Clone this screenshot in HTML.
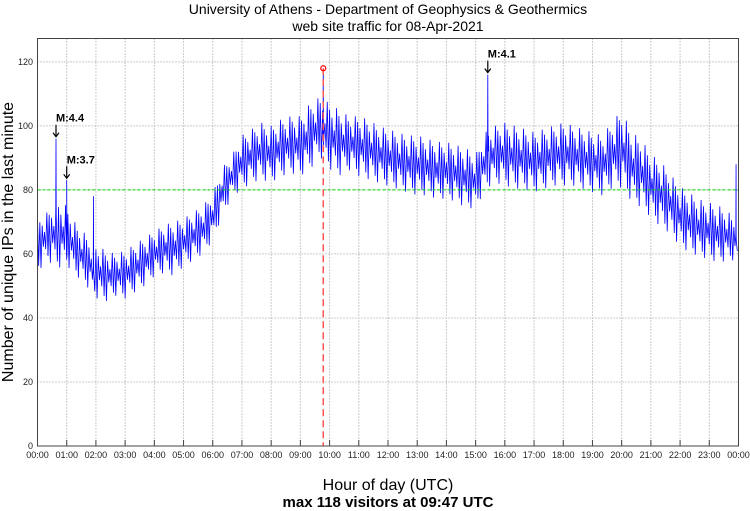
<!DOCTYPE html>
<html><head><meta charset="utf-8"><style>
body{margin:0;background:#fff;}
svg{display:block;font-family:"Liberation Sans",sans-serif;}
</style></head><body>
<svg id="chart" width="750" height="511" viewBox="0 0 750 511" xmlns="http://www.w3.org/2000/svg">
<text x="388" y="14" font-size="14" text-anchor="middle">University of Athens - Department of Geophysics &amp; Geothermics</text>
<text x="388" y="31" font-size="14" text-anchor="middle">web site traffic for 08-Apr-2021</text>
<text transform="translate(13,242) rotate(-90)" font-size="16" text-anchor="middle">Number of unique IPs in the last minute</text>
<text x="388" y="490" font-size="16" text-anchor="middle">Hour of day (UTC)</text>
<text x="388" y="507" font-size="15" font-weight="bold" text-anchor="middle">max 118 visitors at 09:47 UTC</text>
<g id="grid"></g>
<g id="series"></g>
<g id="overlay"></g>
<rect x="37.5" y="38.5" width="701" height="407.5" fill="none" stroke="#444" stroke-width="1"/>
</svg>
<script>
const tickHours=[0,1,2,3,4,5,6,7,8,9,10,11,12,13,14,15,16,17,18,19,20,21,22,23,24];
const yTicks=[0,20,40,60,80,100,120];
// per 20-minute slot: upper and lower envelope of minute counts
const highValues=[
71,73,77, 75,69,66, 63,61,60, 61,63,65,
67,69,70, 71,73,75, 79,87,91, 97,99,101,
100,102,103, 103,107,109, 107,105,103, 103,102,100,
99,98,97, 97,96,95, 95,94,93, 91,98,100,
101,100,99, 98,99,100, 101,100,99, 98,97,101,
105,98,96, 91,89,85, 81,79,77, 76,75,73, 69];
const lowValues=[
53,57,54, 55,52,49, 45,44,46, 45,47,49,
52,53,52, 55,57,59, 63,71,77, 79,81,82,
81,83,84, 83,85,89, 85,83,85, 83,82,81,
80,79,78, 77,77,76, 76,75,73, 73,79,81,
80,79,79, 78,79,80, 80,80,79, 78,77,79,
79,75,73, 70,67,65, 61,59,58, 57,56,57, 57];
const spikeMinutes=[38,60,115,587,925,1435];
const spikeValues=[96,83,78,118,116,88];
const quakeLabels=["M:4.4","M:3.7","M:4.1"];
const quakeMinutes=[38,60,925];
const quakeValues=[96,83,116];
const threshold=80;
const maxMinute=587, maxValue=118;

const X0=37.5,X1=738.5,Y0=446,Y1=38.5,YMAX=127.3;
const xs=m=>X0+(X1-X0)*m/1440;
const ys=v=>Y0-(Y0-Y1)*v/YMAX;
const NS="http://www.w3.org/2000/svg";
function mk(tag,attrs,parent){const e=document.createElementNS(NS,tag);for(const k in attrs)e.setAttribute(k,attrs[k]);parent.appendChild(e);return e;}
const grid=document.getElementById('grid'),series=document.getElementById('series'),ov=document.getElementById('overlay');

tickHours.forEach(h=>{
  const x=xs(h*60);
  if(h>0&&h<24){const l=mk('line',{x1:x,x2:x,y1:Y1,y2:Y0,stroke:'#999','stroke-dasharray':'1,2'},grid);
  
  
  const t1=mk('line',{x1:x,x2:x,y1:Y0,y2:Y0-6,stroke:'#444'},grid);
  
  }
  const t=mk('text',{x:x,y:458,'font-size':'9','text-anchor':'middle',fill:'#222'},grid);
  t.textContent=String(h%24).padStart(2,'0')+':00';
  
  
});
yTicks.forEach(v=>{
  const y=ys(v);
  if(v>0){const l=mk('line',{x1:X0,x2:X1,y1:y,y2:y,stroke:'#999','stroke-dasharray':'1,2'},grid);
  
  }
  const t=mk('text',{x:33,y:y+3,'font-size':'9','text-anchor':'end',fill:'#222'},grid);
  t.textContent=v;
  
  
});

let pts=[];
const step=2.4;
let k=0;
for(let m=0;m<=1440;m+=step,k++){
  const f=m/20, i=Math.min(Math.floor(f),highValues.length-2), fr=f-i;
  const hi=highValues[i]+(highValues[i+1]-highValues[i])*fr;
  const lo=lowValues[i]+(lowValues[i+1]-lowValues[i])*fr;
  const w=[1,0.35,0.8,0.15,0.6,0.9,0.25,0.7][k%8];
  const v=(k%2===0)? lo+(hi-lo)*(0.55+0.45*w) : lo+(hi-lo)*(0.45*w);
  pts.push([m,v]);
}
spikeMinutes.forEach((m,i)=>{pts.push([m-0.5,spikeValues[i]-22]);pts.push([m,spikeValues[i]]);pts.push([m+0.5,spikeValues[i]-24]);});
pts.sort((a,b)=>a[0]-b[0]);
const line=mk('polyline',{points:pts.map(p=>xs(p[0]).toFixed(2)+','+ys(p[1]).toFixed(1)).join(' '),fill:'none',stroke:'#0000ff','stroke-width':'0.8'},series);



const th=mk('line',{x1:X0,x2:X1,y1:ys(threshold),y2:ys(threshold),stroke:'#00dd00','stroke-dasharray':'3,2','stroke-width':'1'},ov);


const mx=mk('line',{x1:xs(maxMinute),x2:xs(maxMinute),y1:ys(maxValue),y2:Y0,stroke:'#ff5555','stroke-dasharray':'7,4','stroke-width':'1.5'},ov);


const mc=mk('circle',{cx:xs(maxMinute),cy:ys(maxValue),r:2.5,fill:'none',stroke:'#ff0000','stroke-width':'1.2'},ov);



quakeLabels.forEach((lab,i)=>{
  const x=xs(quakeMinutes[i]),y=ys(quakeValues[i]);
  const a=mk('path',{d:`M${x},${y-2}V${y-14}M${x-3},${y-6}L${x},${y-2}L${x+3},${y-6}`,stroke:'#000',fill:'none','stroke-width':'1.2'},ov);
  
  
  const t=mk('text',{x:x,y:y-17,'font-size':'11','font-weight':'bold'},ov);
  t.textContent=lab;
  
  
});
</script>
</body></html>
